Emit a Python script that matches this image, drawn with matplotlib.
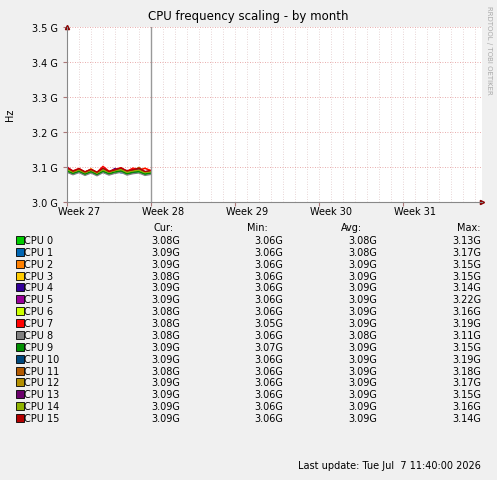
import numpy as np
import matplotlib.pyplot as plt

W, H = 497, 481
cpus = ["CPU %d" % i for i in range(16)]
colors = ["#00CC00", "#0066B3", "#FF8000", "#FFCC00", "#330099", "#990099", "#CCFF00", "#FF0000",
          "#808080", "#008F00", "#00487D", "#B35A00", "#B38F00", "#6B006B", "#8FB300", "#B30000"]
cur = ["3.08G", "3.09G", "3.09G", "3.08G", "3.09G", "3.09G", "3.08G", "3.08G",
       "3.08G", "3.09G", "3.09G", "3.08G", "3.09G", "3.09G", "3.09G", "3.09G"]
mins = ["3.06G", "3.06G", "3.06G", "3.06G", "3.06G", "3.06G", "3.06G", "3.05G",
        "3.06G", "3.07G", "3.06G", "3.06G", "3.06G", "3.06G", "3.06G", "3.06G"]
avgs = ["3.08G", "3.08G", "3.09G", "3.09G", "3.09G", "3.09G", "3.09G", "3.09G",
        "3.08G", "3.09G", "3.09G", "3.09G", "3.09G", "3.09G", "3.09G", "3.09G"]
maxs = ["3.13G", "3.17G", "3.15G", "3.15G", "3.14G", "3.22G", "3.16G", "3.19G",
        "3.11G", "3.15G", "3.19G", "3.18G", "3.17G", "3.15G", "3.16G", "3.14G"]

days = [0, 0.5, 1, 1.5, 2, 2.5, 3, 3.5, 4, 4.5, 5, 5.5, 6, 6.5, 7]
freq = [
    [3.088, 3.080, 3.087, 3.079, 3.085, 3.078, 3.086, 3.080, 3.083, 3.087, 3.079, 3.084, 3.086, 3.079, 3.082],
    [3.092, 3.082, 3.088, 3.081, 3.089, 3.080, 3.088, 3.082, 3.091, 3.083, 3.087, 3.082, 3.090, 3.081, 3.084],
    [3.094, 3.086, 3.092, 3.084, 3.091, 3.083, 3.093, 3.085, 3.090, 3.098, 3.086, 3.094, 3.088, 3.097, 3.088],
    [3.092, 3.085, 3.091, 3.083, 3.095, 3.082, 3.092, 3.084, 3.089, 3.093, 3.085, 3.089, 3.091, 3.084, 3.087],
    [3.097, 3.086, 3.092, 3.084, 3.090, 3.083, 3.091, 3.085, 3.096, 3.088, 3.090, 3.085, 3.094, 3.084, 3.088],
    [3.101, 3.087, 3.094, 3.085, 3.092, 3.084, 3.095, 3.086, 3.091, 3.096, 3.087, 3.091, 3.097, 3.086, 3.089],
    [3.092, 3.085, 3.091, 3.084, 3.090, 3.083, 3.091, 3.085, 3.088, 3.092, 3.086, 3.089, 3.090, 3.084, 3.087],
    [3.099, 3.089, 3.096, 3.086, 3.094, 3.085, 3.102, 3.088, 3.093, 3.098, 3.088, 3.097, 3.092, 3.096, 3.090],
    [3.085, 3.078, 3.084, 3.076, 3.083, 3.075, 3.084, 3.077, 3.082, 3.085, 3.077, 3.081, 3.083, 3.076, 3.079],
    [3.089, 3.082, 3.088, 3.080, 3.087, 3.079, 3.088, 3.081, 3.086, 3.089, 3.081, 3.085, 3.087, 3.080, 3.083],
    [3.094, 3.086, 3.092, 3.084, 3.091, 3.083, 3.093, 3.085, 3.090, 3.094, 3.086, 3.090, 3.092, 3.085, 3.088],
    [3.095, 3.086, 3.093, 3.084, 3.092, 3.083, 3.094, 3.086, 3.091, 3.095, 3.087, 3.090, 3.099, 3.085, 3.088],
    [3.094, 3.086, 3.092, 3.084, 3.091, 3.083, 3.093, 3.085, 3.090, 3.095, 3.086, 3.090, 3.094, 3.085, 3.088],
    [3.096, 3.087, 3.093, 3.085, 3.092, 3.084, 3.094, 3.086, 3.091, 3.096, 3.087, 3.091, 3.095, 3.086, 3.089],
    [3.093, 3.086, 3.092, 3.084, 3.091, 3.083, 3.092, 3.085, 3.090, 3.093, 3.085, 3.089, 3.091, 3.084, 3.087],
    [3.098, 3.088, 3.095, 3.086, 3.093, 3.085, 3.097, 3.087, 3.092, 3.097, 3.089, 3.092, 3.096, 3.087, 3.090],
]
yticks = [3.0, 3.1, 3.2, 3.3, 3.4, 3.5]
weeks = ["Week 27", "Week 28", "Week 29", "Week 30", "Week 31"]

fig = plt.figure(figsize=(W / 100, H / 100), dpi=100, facecolor="#F0F0F0")
plt.rcParams["font.family"] = "DejaVu Sans"

def px(x, y):
    return x / W, 1 - y / H

x0, x1, ytop, ybot = 67, 482, 28, 203
ax = fig.add_axes([x0 / W, 1 - ybot / H, (x1 - x0) / W, (ybot - ytop) / H])
ax.set_facecolor("white")
xmax = (x1 - x0) / 12.0
ax.set_xlim(0, xmax)
ax.set_ylim(3.0, 3.5)
for d in np.arange(1, xmax, 1):
    ax.axvline(d, color="#E0C8C8", lw=0.6, ls=(0, (1, 2)), zorder=0)
for yv in yticks[1:]:
    ax.axhline(yv, color="#E09090", lw=0.6, ls=(0, (1, 2)), zorder=0)
for i in range(16):
    ax.plot(days, freq[i], color=colors[i], lw=1, zorder=2)
ax.axvline(7, color="#999999", lw=1, zorder=3)
for s in ["top", "right"]:
    ax.spines[s].set_visible(False)
for s in ["left", "bottom"]:
    ax.spines[s].set_color("#888888")
ax.set_yticks(yticks)
ax.set_yticklabels(["%.1f G" % v for v in yticks], fontsize=7)
ax.set_xticks([0, 7, 14, 21, 28])
ax.set_xticklabels([])
ax.tick_params(length=3, color="#AA7777")
for k, w in enumerate(weeks):
    ax.text(7 * k + 1, 3.0 - 0.012, w, ha="center", va="top", fontsize=7)
ax.plot(1, 0, ">", color="#880000", ms=3, transform=ax.transAxes, clip_on=False)
ax.plot(0, 1, "^", color="#880000", ms=3, transform=ax.transAxes, clip_on=False)

fig.text(*px(248, 20), "CPU frequency scaling - by month", ha="center", fontsize=8.5)
fig.text(*px(10, 115), "Hz", rotation=90, ha="center", va="center", fontsize=7)
fig.text(*px(489, 6), "RRDTOOL / TOBI OETIKER", rotation=270, ha="center", va="top",
         fontsize=5, color="#AAAAAA")

fs = 7
fig.text(*px(174, 228), "Cur:", ha="right", va="center", fontsize=fs)
fig.text(*px(268, 228), "Min:", ha="right", va="center", fontsize=fs)
fig.text(*px(362, 228), "Avg:", ha="right", va="center", fontsize=fs)
fig.text(*px(481, 228), "Max:", ha="right", va="center", fontsize=fs)
for i in range(16):
    y = 241 + i * 11.87
    fig.patches.append(plt.Rectangle(px(16, y + 4), 8 / W, 8 / H, transform=fig.transFigure,
                                     facecolor=colors[i], edgecolor="black", lw=0.6))
    fig.text(*px(24, y), cpus[i], va="center", fontsize=fs)
    fig.text(*px(180, y), cur[i], ha="right", va="center", fontsize=fs)
    fig.text(*px(283, y), mins[i], ha="right", va="center", fontsize=fs)
    fig.text(*px(377, y), avgs[i], ha="right", va="center", fontsize=fs)
    fig.text(*px(481, y), maxs[i], ha="right", va="center", fontsize=fs)
fig.text(*px(481, 466), "Last update: Tue Jul  7 11:40:00 2026", ha="right", va="center", fontsize=fs)

fig.savefig("out.png", dpi=100, facecolor=fig.get_facecolor())
